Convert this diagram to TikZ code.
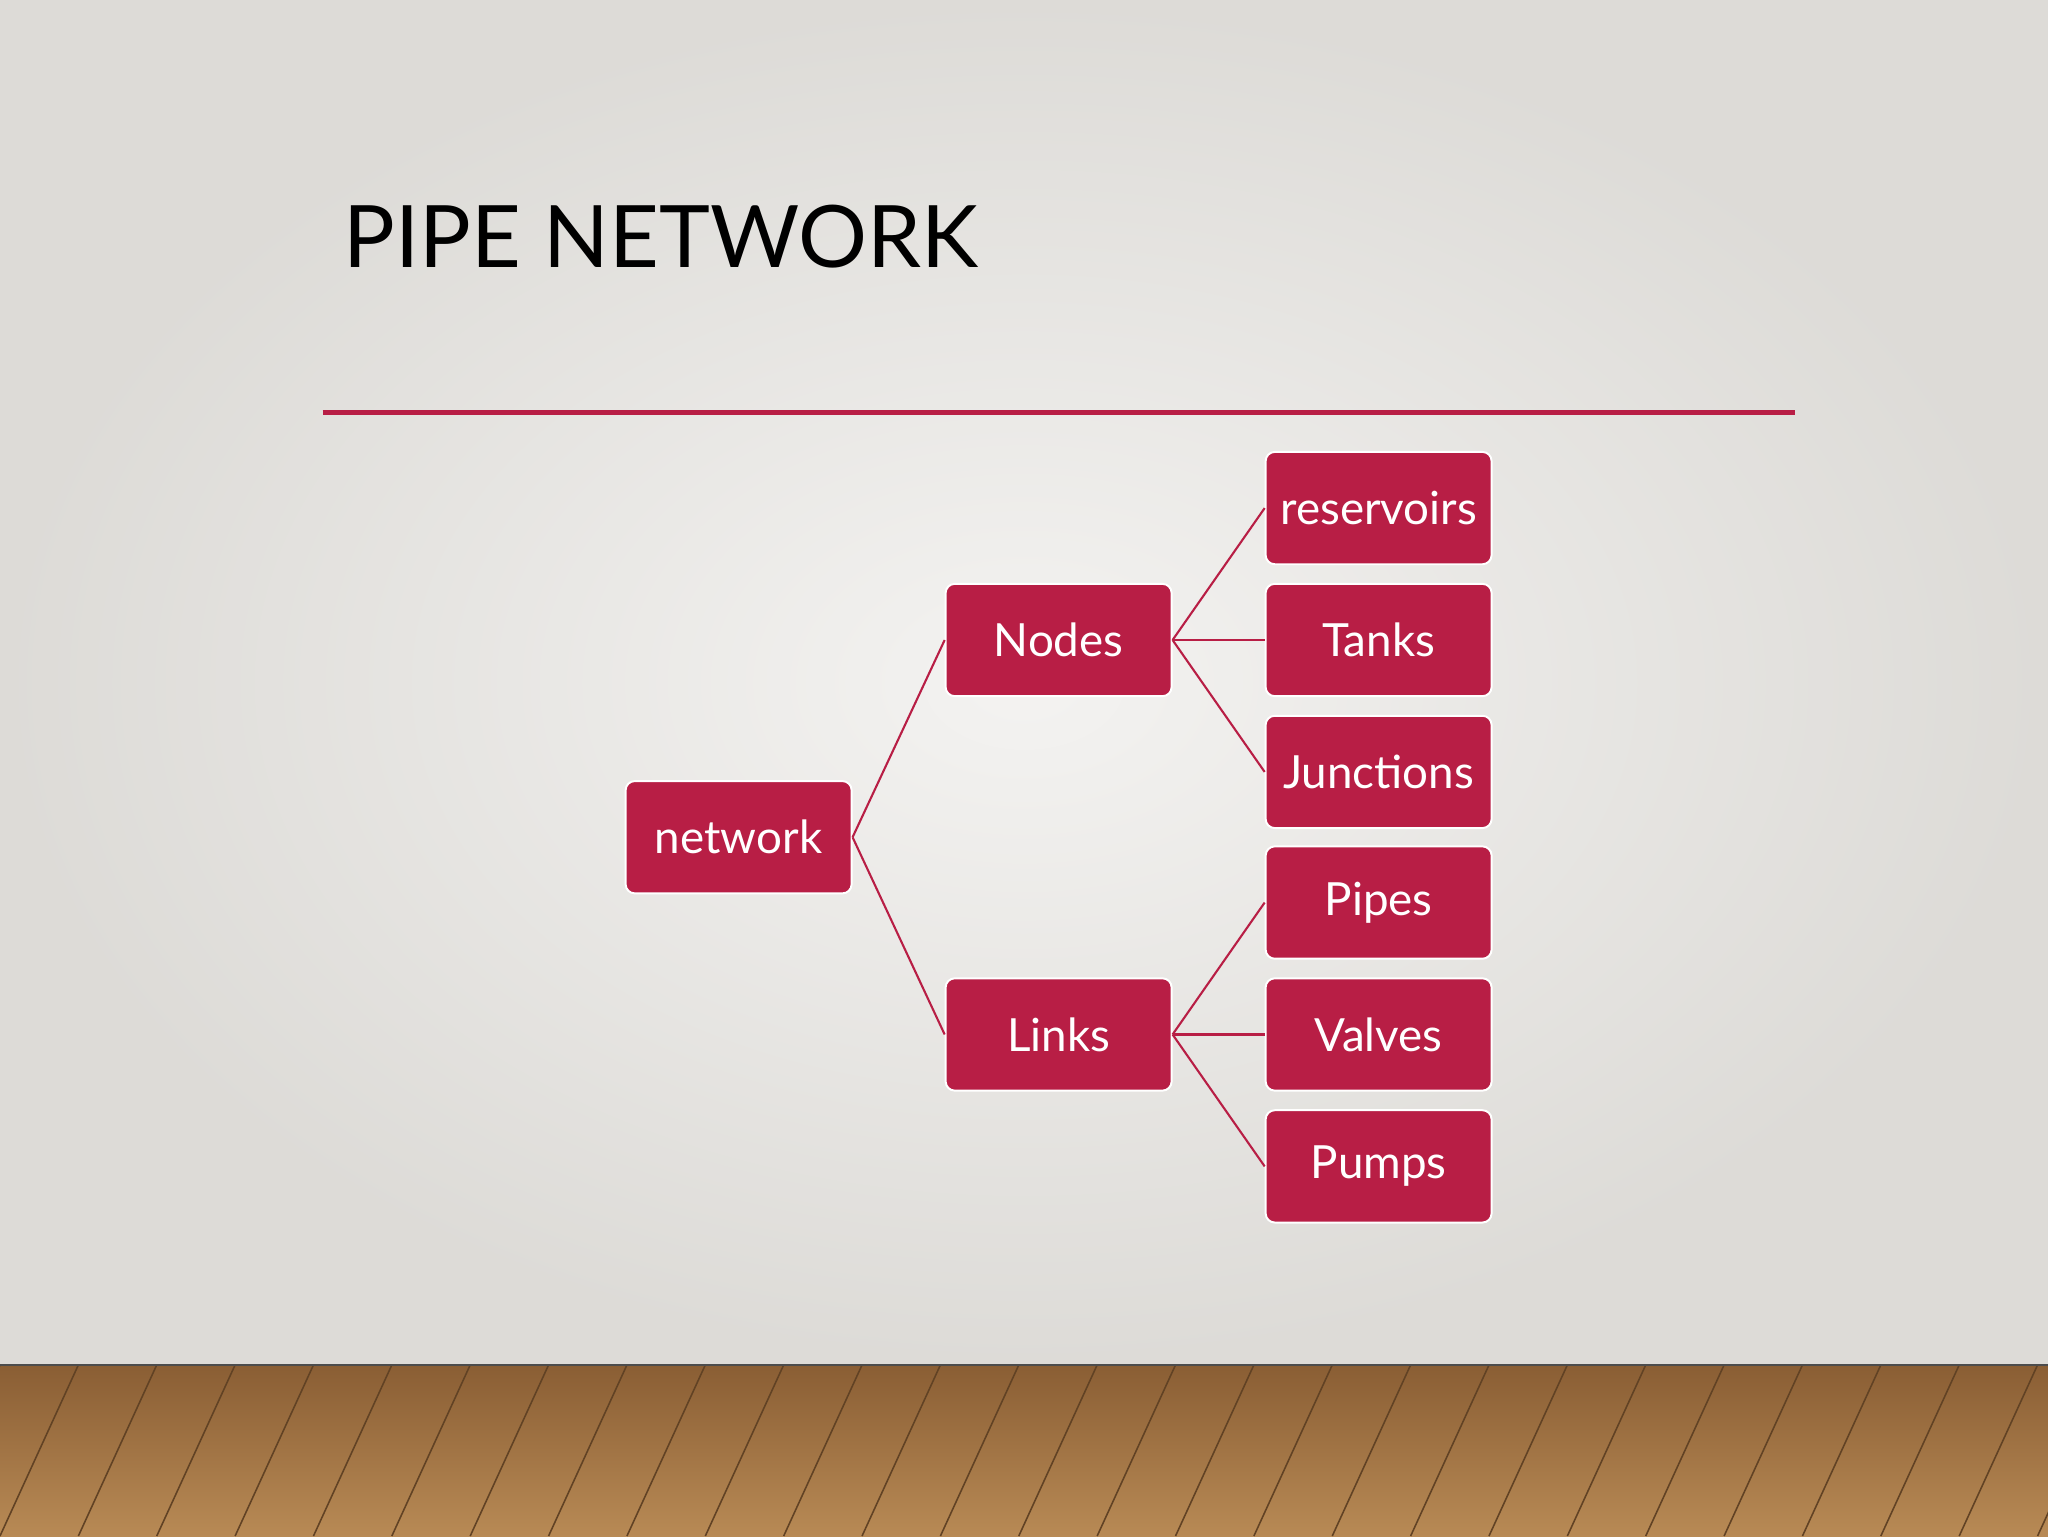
\documentclass[tikz,border=0pt]{standalone}
\usepackage{fontspec}
\setmainfont{Lato}
\definecolor{crim}{HTML}{B81E45}
\definecolor{bg}{HTML}{E6E4E0}
\definecolor{woodA}{HTML}{B88A55}
\definecolor{woodB}{HTML}{8A5E34}
\begin{document}
\begin{tikzpicture}[x=1pt,y=-1pt,
  box/.style={draw=white,line width=1.5pt,fill=crim,rounded corners=7pt,minimum width=173pt,minimum height=86pt,text=white,font=\fontsize{35}{40}\selectfont,inner sep=0pt},
  conn/.style={crim,line width=1.6pt}]
\useasboundingbox (0,0) rectangle (1568,1176);
\shade[inner color=white!55!bg,outer color=bg!96!black] (0,0) rectangle (1568,1045);
\shade[top color=woodB,bottom color=woodA] (0,1045) rectangle (1568,1176);
\foreach \i in {-6,...,30}{
  \draw[woodB!70!black,line width=1.2pt] (\i*60,1176) -- (\i*60+60,1045);
}
\draw[black!70,line width=2pt] (0,1045) -- (1568,1045);
\node[anchor=base west,font=\fontsize{66}{76}\selectfont,inner sep=0pt] (title) at (263,205) {PIPE NETWORK};
\draw[crim,line width=4pt] (247,316) -- (1374,316);
\node[box] (net) at (565.5,641) {network};
\node[box] (nodes) at (810.5,490) {Nodes};
\node[box] (links) at (810.5,792) {Links};
\node[box] (res) at (1055.5,389) {reservoirs};
\node[box] (tanks) at (1055.5,490) {Tanks};
\node[box] (junc) at (1055.5,591) {Junctions};
\node[box] (pipes) at (1055.5,691) {Pipes};
\node[box] (valves) at (1055.5,792) {Valves};
\node[box] (pumps) at (1055.5,893) {Pumps};
\foreach \a/\b in {net/nodes,net/links,nodes/res,nodes/tanks,nodes/junc,links/pipes,links/valves,links/pumps}
  \draw[conn] (\a.east) -- (\b.west);
\end{tikzpicture}
\end{document}
